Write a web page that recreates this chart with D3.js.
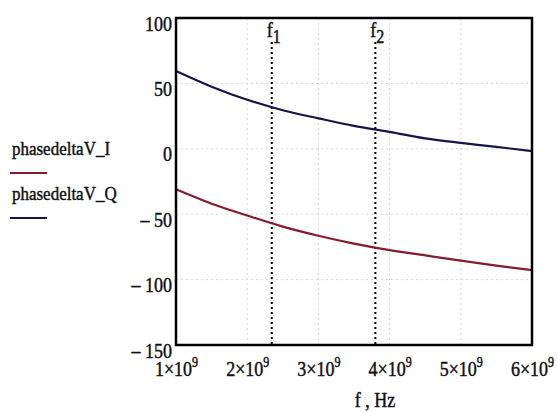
<!DOCTYPE html>
<html lang="en">
<head>
    <meta charset="UTF-8">
    <title>phasedeltaV</title>
    <script src="https://d3js.org/d3.v7.min.js"></script>
    <style>
        body { margin: 0; background: #fff; }
        svg text {
            font-family: "Liberation Serif", "DejaVu Serif", serif;
            fill: #111;
            stroke: #111;
            stroke-width: 0.4px;
        }
    </style>
</head>
<body>
<div id="chart"></div>
<script>
    // data (frequency in Hz, phase in degrees)
    const freqs = [1.0e9, 1.5e9, 2.0e9, 2.5e9, 3.0e9, 3.5e9, 4.0e9, 4.5e9, 5.0e9, 5.5e9, 6.0e9];
    const phaseI = [-31, -42, -51, -59.5, -66.5, -72.5, -77.5, -81.5, -85.5, -89.3, -92.7];
    const phaseQ = [59.5, 47.5, 37.5, 29.5, 23.3, 17.5, 13, 8, 4.5, 1.5, -1.8];
    const seriesNames = ["phasedeltaV_I", "phasedeltaV_Q"];
    const xTicks = [1e9, 2e9, 3e9, 4e9, 5e9, 6e9];
    const yTicks = [100, 50, 0, -50, -100, -150];
    const markerFreqs = [2.345e9, 3.8e9];
    const markerSubs = ["1", "2"];

    const W = 557, H = 412;
    const colors = ["#861b2d", "#15154a"];
    const serif = '"Liberation Serif", "DejaVu Serif", serif';
    const stretch = "scale(1,1.15)";

    const svg = d3.select("#chart").append("svg")
        .attr("width", W)
        .attr("height", H)
        .attr("font-family", serif);

    const x = d3.scaleLinear().domain([1e9, 6e9]).range([176, 532]);
    const y = d3.scaleLinear().domain([-150, 100]).range([345, 18]);

    // grid
    svg.append("g").selectAll("line")
        .data(xTicks.slice(1, -1))
        .enter().append("line")
        .attr("x1", d => x(d)).attr("x2", d => x(d))
        .attr("y1", y(100)).attr("y2", y(-150))
        .attr("stroke", "#d4d4d4").attr("stroke-dasharray", "2,3");
    svg.append("g").selectAll("line")
        .data(yTicks.slice(1, -1))
        .enter().append("line")
        .attr("x1", x(1e9)).attr("x2", x(6e9))
        .attr("y1", d => y(d)).attr("y2", d => y(d))
        .attr("stroke", "#d4d4d4").attr("stroke-dasharray", "2,3");

    // marker lines f1, f2
    markerFreqs.forEach((f, i) => {
        svg.append("line")
            .attr("x1", x(f)).attr("x2", x(f))
            .attr("y1", 42).attr("y2", y(-150))
            .attr("stroke", "#000").attr("stroke-width", 2)
            .attr("stroke-dasharray", "2,3");
        const lab = svg.append("text")
            .attr("transform", `translate(${x(f) - 5},37) ${stretch}`)
            .attr("font-family", serif)
            .attr("font-size", 18);
        lab.append("tspan").text("f");
        lab.append("tspan").attr("dy", 5).attr("font-size", 16).text(markerSubs[i]);
    });

    // curves
    const series = [phaseI, phaseQ];
    const line = d3.line()
        .x((d, i) => x(freqs[i]))
        .y(d => y(d))
        .curve(d3.curveMonotoneX);
    series.forEach((vals, k) => {
        svg.append("path")
            .datum(vals)
            .attr("d", line)
            .attr("fill", "none")
            .attr("stroke", colors[k])
            .attr("stroke-width", 2.2);
    });

    // frame
    svg.append("rect")
        .attr("x", x(1e9)).attr("y", y(100))
        .attr("width", x(6e9) - x(1e9))
        .attr("height", y(-150) - y(100))
        .attr("fill", "none")
        .attr("stroke", "#000")
        .attr("stroke-width", 2.5);

    // y axis
    const yAxis = svg.append("g")
        .attr("transform", `translate(${x(1e9)},0)`)
        .call(d3.axisLeft(y).tickValues(yTicks).tickSize(0).tickPadding(4)
            .tickFormat(d => d < 0 ? "\u2013 " + Math.abs(d) : d));
    yAxis.attr("font-family", serif);
    yAxis.select(".domain").remove();
    yAxis.selectAll("text")
        .attr("font-size", 18)
        .attr("font-family", serif)
        .attr("dy", 10.5)
        .attr("transform", stretch);

    // x axis with 10^9 labels
    const xAxis = svg.append("g")
        .attr("transform", `translate(0,${y(-150)})`)
        .call(d3.axisBottom(x).tickValues(xTicks).tickSize(0).tickFormat(""));
    xAxis.attr("font-family", serif);
    xAxis.select(".domain").remove();
    xAxis.selectAll(".tick").append("text")
        .attr("y", 27)
        .attr("text-anchor", "middle")
        .attr("font-family", serif)
        .attr("font-size", 18)
        .attr("transform", stretch)
        .each(function(d) {
            const t = d3.select(this);
            t.append("tspan").text(d / 1e9 + "\u00d710");
            t.append("tspan").attr("dy", -8).attr("font-size", 12).text("9");
        });

    svg.append("text")
        .attr("transform", `translate(375,407) ${stretch}`)
        .attr("text-anchor", "middle")
        .attr("font-family", serif)
        .attr("font-size", 18)
        .text("f , Hz");

    // legend
    const legendY = [155, 200];
    seriesNames.forEach((name, k) => {
        svg.append("text")
            .attr("transform", `translate(12,${legendY[k]}) ${stretch}`)
            .attr("font-family", serif)
            .attr("font-size", 17)
            .text(name);
        svg.append("line")
            .attr("x1", 10).attr("x2", 47)
            .attr("y1", legendY[k] + 18).attr("y2", legendY[k] + 18)
            .attr("stroke", colors[k]).attr("stroke-width", 2);
    });
</script>
</body>
</html>
